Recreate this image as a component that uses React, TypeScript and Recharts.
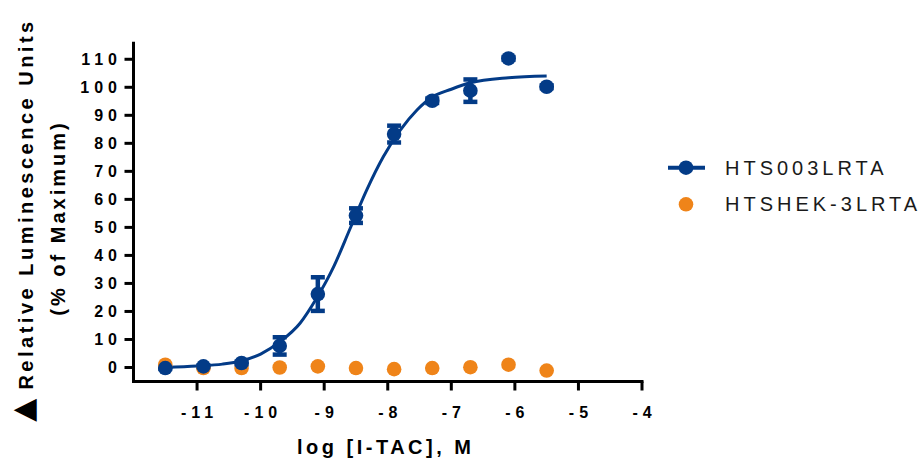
import React from 'react';
import { ComposedChart, Line, Scatter, XAxis, YAxis, ErrorBar, Legend, Label } from 'recharts';

// Dose (log M) of each measured point
const logConc = [-11.5, -10.9, -10.3, -9.7, -9.1, -8.5, -7.9, -7.3, -6.7, -6.1, -5.5];
// HTS003LRTA mean response and error (±)
const hts003Mean = [-0.2, 0.4, 1.6, 7.7, 26.2, 54.2, 83.3, 95.2, 98.8, 110.3, 100.2];
const hts003Err = [0.3, 0.3, 0.5, 3.1, 6.0, 2.6, 3.0, 0.8, 4.0, 0.5, 0.5];
// HTSHEK-3LRTA response
const hekMean = [1.0, -0.2, -0.2, 0.0, 0.4, -0.2, -0.6, -0.2, 0.1, 1.0, -1.1];
// Fitted curve
const fitLogConc = [-11.5, -11.0, -10.6, -10.3, -10.0, -9.69, -9.38, -9.12, -8.85, -8.59, -8.33, -8.07, -7.8, -7.54, -7.33, -7.0, -6.7, -6.1, -5.5];
const fitValue = [0.0, 0.5, 1.2, 2.4, 4.8, 9.3, 15.8, 24.7, 36.0, 49.7, 63.4, 75.2, 84.8, 91.9, 96.1, 99.3, 101.6, 103.4, 104.0];

const xTicks = [-11, -10, -9, -8, -7, -6, -5, -4];
const yTicks = [0, 10, 20, 30, 40, 50, 60, 70, 80, 90, 100, 110];
const seriesNames = ['HTS003LRTA', 'HTSHEK-3LRTA'];
const xTitle = 'log [I-TAC], M';
const yTitleMark = '\u25B2';
const yTitle1 = ' Relative Luminescence Units';
const yTitle2 = '(% of Maximum)';

const BLUE = '#033b87';
const ORANGE = '#ef8419';
const FONT = '"Liberation Sans", Arial, Helvetica, sans-serif';
const TICK_LS = 5;

const blueData = logConc.map((x, i) => ({ x, y: hts003Mean[i], err: hts003Err[i] }));
const orangeData = logConc.map((x, i) => ({ x, y: hekMean[i] }));
const fitData = fitLogConc.map((x, i) => ({ x, y: fitValue[i] }));

const XTick = (props: any) => {
  const { x, y, payload } = props;
  return (
    <text x={x + TICK_LS / 2} y={y} dy="0.71em" textAnchor="middle" fontFamily={FONT} fontSize={16} fontWeight={700} fill="#000" letterSpacing={TICK_LS}>
      {payload.value}
    </text>
  );
};

const YTick = (props: any) => {
  const { x, y, payload } = props;
  return (
    <text x={x + TICK_LS + 0.5} y={y} dy="0.355em" textAnchor="end" fontFamily={FONT} fontSize={16} fontWeight={700} fill="#000" letterSpacing={TICK_LS}>
      {payload.value}
    </text>
  );
};

const XTitle = (props: any) => {
  const { viewBox } = props;
  const cx = viewBox.x + viewBox.width / 2;
  return (
    <text x={cx - 2} y={viewBox.y + 72} textAnchor="middle" fontFamily={FONT} fontSize={20} fontWeight={700} fill="#000" letterSpacing={3.5}>
      {xTitle}
    </text>
  );
};

const YTitle = () => {
  const cy1 = 220;
  const cy2 = 218;
  return (
    <g>
      <text x={33} y={cy1} transform={`rotate(-90 33 ${cy1})`} textAnchor="middle" fontFamily={FONT} fontSize={20} fontWeight={700} fill="#000" letterSpacing={3.5}>
        <tspan fontFamily='"DejaVu Sans", sans-serif' fontSize={30} letterSpacing={0}>{yTitleMark}</tspan>
        {yTitle1}
      </text>
      <text x={65} y={cy2} transform={`rotate(-90 65 ${cy2})`} textAnchor="middle" fontFamily={FONT} fontSize={20} fontWeight={700} fill="#000" letterSpacing={3}>
        {yTitle2}
      </text>
    </g>
  );
};

const LegendContent = () => (
  <svg width={267} height={90} style={{ display: 'block' }}>
    <line x1={13} y1={19.7} x2={50} y2={19.7} stroke={BLUE} strokeWidth={4} />
    <circle cx={31} cy={19.7} r={7.3} fill={BLUE} />
    <text x={70} y={19.7} dy="0.355em" fontFamily={FONT} fontSize={20} fill="#1a1a1a" letterSpacing={4}>
      {seriesNames[0]}
    </text>
    <circle cx={31} cy={56.3} r={7.3} fill={ORANGE} />
    <text x={70} y={56.3} dy="0.355em" fontFamily={FONT} fontSize={20} fill="#1a1a1a" letterSpacing={4}>
      {seriesNames[1]}
    </text>
  </svg>
);

const dot = (color: string) => (props: any) => <circle cx={props.cx} cy={props.cy} r={7.3} fill={color} />;

export default function App() {
  return (
    <div style={{ position: 'absolute', left: 0, top: 0, width: 922, height: 462, background: '#fff' }}>
      <ComposedChart width={922} height={462} margin={{ top: 43.3, right: 280, bottom: 0, left: 0 }}>
        <XAxis
          type="number"
          dataKey="x"
          domain={[-12, -4]}
          ticks={xTicks}
          allowDataOverflow
          height={80.5}
          axisLine={{ stroke: '#000', strokeWidth: 3, strokeLinecap: 'square' }}
          tickLine={{ stroke: '#000', strokeWidth: 3 }}
          tickSize={9}
          tickMargin={16}
          tick={<XTick />}
          interval={0}
        >
          <Label content={<XTitle />} />
        </XAxis>
        <YAxis
          type="number"
          dataKey="y"
          domain={[-5, 115.7]}
          ticks={yTicks}
          allowDataOverflow
          width={133.5}
          axisLine={{ stroke: '#000', strokeWidth: 3, strokeLinecap: 'square' }}
          tickLine={{ stroke: '#000', strokeWidth: 3 }}
          tickSize={9}
          tickMargin={8}
          tick={<YTick />}
          interval={0}
        >
          <Label content={<YTitle />} />
        </YAxis>
        <Legend layout="vertical" align="center" verticalAlign="middle" content={<LegendContent />} wrapperStyle={{ left: 655, top: 148, width: 267, height: 90 }} />
        <Scatter name={seriesNames[1]} data={orangeData} fill={ORANGE} shape={dot(ORANGE)} isAnimationActive={false} />
        <Line data={fitData} dataKey="y" type="monotone" stroke={BLUE} strokeWidth={3} dot={false} activeDot={false} isAnimationActive={false} legendType="none" />
        <Scatter name={seriesNames[0]} data={blueData} fill={BLUE} shape={dot(BLUE)} isAnimationActive={false}>
          <ErrorBar dataKey="err" direction="y" width={7} stroke={BLUE} strokeWidth={4.5} />
        </Scatter>
      </ComposedChart>
    </div>
  );
}
